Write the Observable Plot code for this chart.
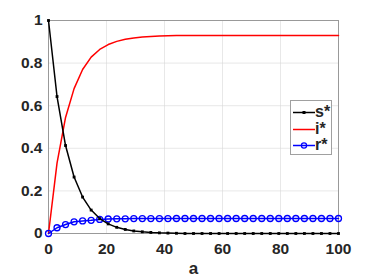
<!DOCTYPE html>
<html>
<head>
<meta charset="utf-8">
<script src="https://cdn.jsdelivr.net/npm/d3@7"></script>
<script src="https://cdn.jsdelivr.net/npm/@observablehq/plot@0.6"></script>
<style>
  html, body { margin: 0; padding: 0; background: #fff; }
  #wrap { position: relative; width: 374px; height: 280px; font-family: "Liberation Sans", Arial, sans-serif; }
  #legend { position: absolute; left: 290px; top: 100px; width: 42px; height: 55px; border: 1px solid #a0a0a0; background: #fff; box-sizing: border-box; }
  .row { position: absolute; left: 0; height: 16px; width: 42px; }
  .row svg { position: absolute; left: 2px; top: 0; }
  .row span { position: absolute; left: 24px; top: -1px; font-weight: bold; font-size: 16px; color: #262626; line-height: 16px; }
</style>
</head>
<body>
<div id="wrap"></div>
<script>
const a = [0, 2.94, 5.88, 8.82, 11.76, 14.71, 17.65, 20.59, 23.53, 26.47, 29.41, 32.35, 35.29, 38.24, 41.18, 44.12, 47.06, 50, 52.94, 55.88, 58.82, 61.76, 64.71, 67.65, 70.59, 73.53, 76.47, 79.41, 82.35, 85.29, 88.24, 91.18, 94.12, 97.06, 100];
const sStar = [1, 0.643, 0.413, 0.265, 0.171, 0.110, 0.070, 0.045, 0.029, 0.019, 0.012, 0.008, 0.005, 0.003, 0.002, 0.001, 0, 0, 0, 0, 0, 0, 0, 0, 0, 0, 0, 0, 0, 0, 0, 0, 0, 0, 0];
const iStar = [0, 0.33, 0.545, 0.68, 0.77, 0.828, 0.864, 0.887, 0.902, 0.912, 0.918, 0.922, 0.925, 0.927, 0.928, 0.929, 0.9295, 0.9295, 0.9295, 0.9295, 0.9295, 0.9295, 0.9295, 0.9295, 0.9295, 0.9295, 0.9295, 0.9295, 0.9295, 0.9295, 0.9295, 0.9295, 0.9295, 0.9295, 0.9295];
const rStar = [0, 0.027, 0.042, 0.055, 0.059, 0.062, 0.066, 0.068, 0.069, 0.069, 0.070, 0.070, 0.070, 0.070, 0.070, 0.0705, 0.0705, 0.0705, 0.0705, 0.0705, 0.0705, 0.0705, 0.0705, 0.0705, 0.0705, 0.0705, 0.0705, 0.0705, 0.0705, 0.0705, 0.0705, 0.0705, 0.0705, 0.0705, 0.0705];
const xTicks = [0, 20, 40, 60, 80, 100];
const yTicks = [0, 0.2, 0.4, 0.6, 0.8, 1];
const yTickLabels = ["0", "0.2", "0.4", "0.6", "0.8", "1"];
const seriesNames = ["s*", "i*", "r*"];
const xLabel = "a";

const rows = a.map((x, k) => ({x, s: sStar[k], i: iStar[k], r: rStar[k]}));

const chart = Plot.plot({
  width: 374,
  height: 280,
  marginLeft: 48,
  marginRight: 36,
  marginTop: 20,
  marginBottom: 47,
  style: {fontFamily: "Liberation Sans, Arial, sans-serif", fontSize: "15.5px", fontWeight: "bold", color: "#262626", background: "#fff"},
  x: {domain: [0, 100], ticks: xTicks, label: null},
  y: {domain: [0, 1], ticks: yTicks, label: null},
  marks: [
    Plot.gridX(xTicks, {stroke: "#d8d8d8", strokeOpacity: 0.6}),
    Plot.gridY(yTicks, {stroke: "#d8d8d8", strokeOpacity: 0.6}),
    Plot.frame({stroke: "#999", strokeWidth: 1}),
    Plot.axisX(xTicks, {tickSize: 0, tickPadding: 9, fontSize: 15.5, fontWeight: "bold", fill: "#262626", label: null}),
    Plot.axisY(yTicks, {tickSize: 0, tickPadding: 6, fontSize: 15.5, fontWeight: "bold", fill: "#262626", label: null, tickFormat: (d) => yTickLabels[yTicks.indexOf(d)]}),
    Plot.text([xLabel], {frameAnchor: "bottom", dy: 40, fontSize: 17, fontWeight: "bold", fill: "#262626"}),
    Plot.line(rows, {x: "x", y: "i", stroke: "#ff0000", strokeWidth: 1.5}),
    Plot.line(rows, {x: "x", y: "r", stroke: "#0000ff", strokeWidth: 1.5}),
    Plot.dot(rows, {x: "x", y: "r", r: 3, stroke: "#0000ff", strokeWidth: 1.3, fill: "none"}),
    Plot.line(rows, {x: "x", y: "s", stroke: "#000", strokeWidth: 1.5}),
    Plot.dot(rows, {x: "x", y: "s", r: 1.6, symbol: "square", fill: "#000", stroke: "none"})
  ]
});

const wrap = document.getElementById("wrap");
wrap.appendChild(chart);

const legend = document.createElement("div");
legend.id = "legend";
const colors = ["#000", "#ff0000", "#0000ff"];
seriesNames.forEach((name, k) => {
  const row = document.createElement("div");
  row.className = "row";
  row.style.top = (4 + k * 16.5) + "px";
  let marker = "";
  if (k === 0) marker = '<rect x="9.5" y="6" width="3" height="3" fill="#000"/>';
  if (k === 2) marker = '<circle cx="11" cy="7.5" r="2.6" fill="none" stroke="#0000ff" stroke-width="1.2"/>';
  row.innerHTML = `<svg width="22" height="16"><line x1="0" x2="22" y1="7.5" y2="7.5" stroke="${colors[k]}" stroke-width="1.5"/>${marker}</svg><span>${name}</span>`;
  legend.appendChild(row);
});
wrap.appendChild(legend);
</script>
</body>
</html>
